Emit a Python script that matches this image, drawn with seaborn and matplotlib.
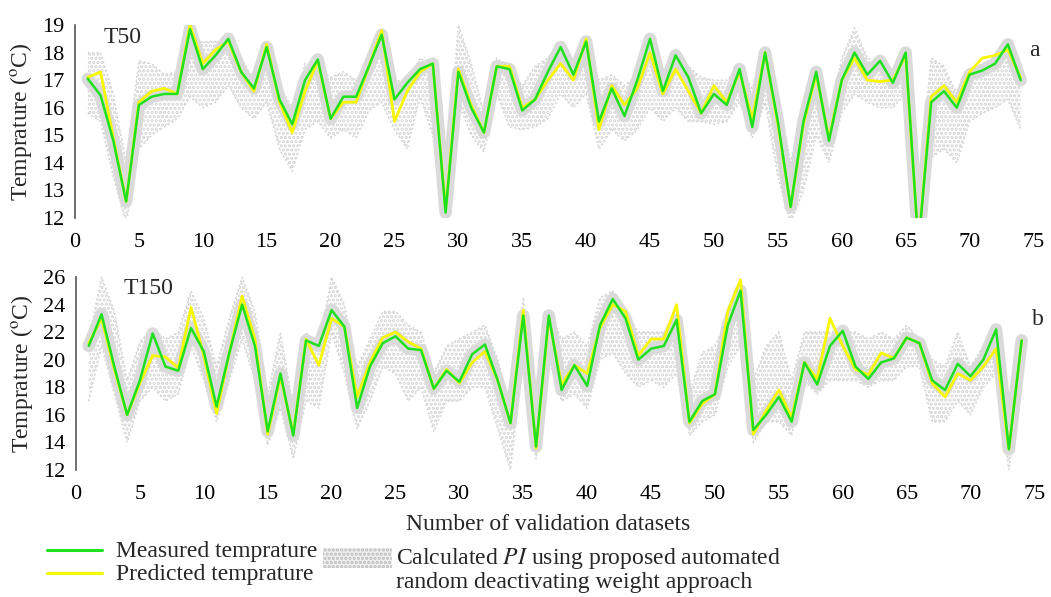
import numpy as np
import pandas as pd
import matplotlib
matplotlib.use("Agg")
import matplotlib.pyplot as plt
import seaborn as sns
from matplotlib.lines import Line2D
from matplotlib.patches import Rectangle

# ---------------- data ----------------
x_idx = list(range(1, 75))

t50_measured = [17.05, 16.45, 14.8, 12.6, 16.1, 16.4, 16.5, 16.5, 18.85, 17.4,
                17.9, 18.5, 17.3, 16.7, 18.2, 16.3, 15.4, 17.0, 17.75, 15.6,
                16.4, 16.4, 17.5, 18.65, 16.3, 16.9, 17.4, 17.6, 12.2, 17.3,
                16.0, 15.1, 17.5, 17.4, 15.9, 16.3, 17.3, 18.2, 17.2, 18.4,
                15.5, 16.7, 15.7, 17.0, 18.5, 16.6, 17.9, 17.1, 15.8, 16.5,
                16.1, 17.4, 15.3, 18.0, 15.5, 12.4, 15.5, 17.3, 14.8, 17.0,
                18.0, 17.2, 17.7, 16.9, 18.0, 11.0, 16.2, 16.6, 16.0, 17.2,
                17.35, 17.6, 18.3, 17.0]
t50_predicted = [17.1, 17.3, 14.9, 12.6, 16.2, 16.6, 16.7, 16.5, 19.0, 17.6,
                 18.1, 18.4, 17.3, 16.6, 18.3, 16.2, 15.1, 16.6, 17.7, 15.6,
                 16.2, 16.2, 17.5, 18.8, 15.5, 16.6, 17.3, 17.6, 12.3, 17.4,
                 16.1, 15.1, 17.5, 17.5, 16.0, 16.3, 17.0, 17.6, 17.0, 18.5,
                 15.2, 16.8, 16.1, 16.7, 18.0, 16.5, 17.4, 16.6, 15.8, 16.8,
                 16.2, 17.3, 15.6, 18.0, 15.4, 12.4, 15.4, 17.2, 14.9, 17.0,
                 17.8, 17.0, 16.95, 17.0, 17.9, 11.0, 16.4, 16.8, 16.2, 17.3,
                 17.8, 17.9, 18.1, 17.1]
t50_pi_low = [15.8, 15.5, 13.5, 11.8, 14.5, 15.0, 15.3, 15.6, 16.4, 16.0,
              16.2, 16.8, 16.0, 15.6, 16.2, 14.5, 13.7, 15.2, 15.5, 14.9,
              15.2, 14.9, 15.9, 16.2, 15.2, 14.5, 16.4, 15.0, 11.8, 16.2,
              15.0, 14.4, 16.5, 15.3, 15.2, 15.3, 15.6, 16.5, 16.0, 16.5,
              14.5, 15.2, 14.8, 15.2, 16.0, 15.5, 16.0, 15.5, 15.5, 15.4,
              15.5, 16.2, 14.9, 16.2, 13.5, 11.8, 13.0, 15.0, 14.0, 15.8,
              16.5, 16.2, 16.0, 16.0, 16.5, 11.8, 14.2, 14.5, 14.0, 15.5,
              15.8, 16.0, 16.3, 15.2]
t50_pi_high = [18.0, 18.0, 16.5, 14.0, 17.7, 17.6, 17.2, 17.3, 18.3, 18.4,
               18.4, 18.4, 17.8, 17.0, 18.3, 16.8, 16.0, 17.6, 17.5, 17.1,
               17.3, 17.0, 17.5, 18.2, 17.0, 16.9, 17.8, 17.5, 13.0, 19.0,
               17.6, 15.8, 17.8, 17.4, 16.8, 17.5, 17.8, 18.3, 17.4, 18.4,
               17.0, 17.2, 16.8, 17.2, 18.0, 17.2, 18.0, 17.5, 17.1, 17.0,
               17.0, 17.4, 16.7, 18.2, 16.5, 14.0, 16.0, 17.3, 15.5, 17.8,
               18.9, 17.8, 17.6, 17.3, 18.0, 13.0, 17.8, 17.5, 16.5, 17.4,
               17.6, 17.8, 18.4, 17.3]

t150_measured = [21.0, 23.3, 19.5, 16.0, 18.5, 21.9, 19.5, 19.2, 22.3, 20.6,
                 16.6, 20.5, 24.0, 21.0, 14.8, 19.0, 14.5, 21.4, 21.0, 23.6,
                 22.4, 16.5, 19.5, 21.2, 21.7, 20.8, 20.7, 17.9, 19.2, 18.4,
                 20.4, 21.1, 18.5, 15.4, 23.2, 13.7, 23.2, 17.8, 19.6, 18.1,
                 22.5, 24.4, 23.0, 20.0, 20.8, 21.0, 22.9, 15.5, 17.0, 17.5,
                 22.5, 25.0, 14.9, 16.0, 17.3, 15.5, 19.8, 18.2, 21.0, 22.1,
                 19.5, 18.6, 19.8, 20.1, 21.6, 21.2, 18.5, 17.8, 19.7, 18.8,
                 20.0, 22.2, 13.5, 21.4]
t150_predicted = [21.2, 23.0, 19.3, 16.0, 18.3, 20.3, 20.2, 19.4, 23.8, 20.3,
                  16.1, 20.5, 24.6, 21.5, 14.6, 18.8, 14.6, 21.5, 19.6, 23.0,
                  22.4, 17.3, 19.8, 21.6, 22.0, 21.3, 20.8, 17.9, 19.3, 18.3,
                  19.8, 20.6, 18.5, 15.4, 23.6, 13.6, 23.0, 18.2, 19.6, 19.0,
                  22.3, 24.0, 23.5, 20.3, 21.5, 21.5, 24.0, 15.4, 16.8, 17.5,
                  23.5, 25.8, 14.6, 16.3, 17.8, 15.8, 19.8, 18.6, 23.0, 21.0,
                  19.3, 18.9, 20.5, 20.1, 21.6, 21.2, 18.3, 17.3, 19.0, 18.5,
                  19.5, 20.8, 13.5, 21.4]
t150_pi_low = [17.0, 21.0, 17.5, 14.0, 17.0, 18.0, 17.0, 17.5, 21.0, 18.5,
               15.5, 18.5, 21.5, 18.5, 13.8, 16.5, 12.8, 17.0, 16.5, 22.0,
               19.0, 15.0, 17.0, 19.5, 19.0, 17.0, 18.0, 14.8, 17.0, 17.0,
               18.0, 18.0, 15.0, 12.0, 20.5, 12.8, 20.0, 17.0, 17.5, 16.5,
               20.0, 20.5, 19.0, 18.0, 18.5, 18.0, 19.0, 14.5, 15.5, 16.0,
               19.5, 21.0, 14.0, 15.5, 15.5, 14.5, 18.5, 17.5, 18.5, 18.5,
               18.5, 18.0, 18.5, 18.5, 19.5, 19.5, 15.5, 15.5, 17.0, 16.0,
               18.0, 19.0, 12.0, 19.0]
t150_pi_high = [21.5, 26.0, 23.5, 18.5, 21.3, 22.3, 21.5, 22.0, 25.0, 23.0,
                19.5, 23.0, 26.0, 23.5, 17.5, 22.0, 16.5, 22.0, 21.0, 26.0,
                24.0, 19.5, 21.5, 23.5, 23.5, 22.5, 22.0, 19.0, 21.0, 21.5,
                22.0, 22.5, 20.0, 16.5, 24.5, 15.0, 23.5, 21.5, 22.0, 21.0,
                24.5, 25.0, 23.5, 22.0, 22.0, 22.0, 22.5, 17.5, 20.5, 21.0,
                23.0, 24.0, 18.5, 21.0, 22.0, 18.5, 22.0, 22.0, 22.0, 22.0,
                22.0, 21.5, 22.0, 21.5, 22.5, 21.5, 20.0, 19.5, 22.0, 19.5,
                21.0, 22.5, 15.0, 22.0]

x_ticks = list(range(0, 80, 5))
t50_yticks = list(range(12, 20, 1))
t150_yticks = list(range(12, 27, 2))
panel_names = ["T50", "T150"]
panel_letters = ["a", "b"]
legend_labels = ["Measured temprature", "Predicted temprature",
                 "Calculated $\\mathit{PI}$ using proposed automated",
                 "random deactivating weight approach"]
x_label = "Number of validation datasets"
y_label = "Temprature ($^{\\mathrm{o}}$C)"

# ---------------- style ----------------
sns.set_style("white")
plt.rcParams["font.family"] = ["Liberation Serif", "DejaVu Serif"]
plt.rcParams["mathtext.fontset"] = "stix"
plt.rcParams["hatch.linewidth"] = 1.6

GREEN = "#1ee01e"
YELLOW = "#f7f700"
GRAY = "#d4d4d4"
CORE = "#dadada"
FS = 17
TICK_FS = 16

W, H = 1051, 597
fig = plt.figure(figsize=(W / 100, H / 100), dpi=100)


def fx(px):
    return px / W


def fy(py):
    return 1 - py / H


ax_top = fig.add_axes([fx(75), fy(218), fx(1036) - fx(75), fy(25) - fy(218)])
ax_bot = fig.add_axes([fx(76), fy(470), fx(1037) - fx(76), fy(277) - fy(470)])

panels = [
    (ax_top, t50_measured, t50_predicted, t50_pi_low, t50_pi_high, (12, 19), t50_yticks),
    (ax_bot, t150_measured, t150_predicted, t150_pi_low, t150_pi_high, (12, 26), t150_yticks),
]

for i, (ax, meas, pred, lo, hi, ylim, yt) in enumerate(panels):
    df = pd.DataFrame({"x": x_idx, "measured": meas, "predicted": pred,
                       "lo": lo, "hi": hi})
    # prediction interval cloud
    ax.fill_between(df["x"], df["lo"], df["hi"], facecolor="none",
                    edgecolor=GRAY, hatch="....", linewidth=0, zorder=1)
    sns.lineplot(data=df, x="x", y="lo", ax=ax, color=GRAY, lw=1.2,
                 linestyle=":", zorder=1)
    sns.lineplot(data=df, x="x", y="hi", ax=ax, color=GRAY, lw=1.2,
                 linestyle=":", zorder=1)
    sns.lineplot(data=df, x="x", y="measured", ax=ax, color=CORE, lw=9,
                 zorder=2, solid_capstyle="round", solid_joinstyle="round")
    # measured / predicted
    sns.lineplot(data=df, x="x", y="predicted", ax=ax, color=YELLOW, lw=2.0,
                 zorder=3, solid_joinstyle="round")
    sns.lineplot(data=df, x="x", y="measured", ax=ax, color=GREEN, lw=1.8,
                 zorder=4, solid_joinstyle="round")

    ax.set_xlim(0, 75.2)
    ax.set_ylim(*ylim)
    ax.set_xticks(x_ticks)
    ax.set_yticks(yt)
    ax.set_xlabel("")
    ax.set_ylabel(y_label, fontsize=FS)
    ax.yaxis.set_label_coords(-0.043, 0.5)
    for s in ["top", "right", "bottom"]:
        ax.spines[s].set_visible(False)
    ax.spines["left"].set_color("#555555")
    ax.spines["left"].set_linewidth(1.2)
    ax.tick_params(axis="both", direction="in", length=5, width=1.1,
                   color="#333333", labelsize=TICK_FS, labelcolor="black")
    ax.tick_params(axis="x", pad=11)
    ax.tick_params(axis="y", pad=8)
    ax.set_facecolor("none")

ax_top.text(0.05, 0.933, panel_names[0], transform=ax_top.transAxes,
            fontsize=FS, ha="center", va="center")
ax_top.text(0.998, 0.87, panel_letters[0], transform=ax_top.transAxes,
            fontsize=FS, ha="center", va="center")
ax_bot.text(0.075, 0.938, panel_names[1], transform=ax_bot.transAxes,
            fontsize=FS, ha="center", va="center")
ax_bot.text(1.001, 0.782, panel_letters[1], transform=ax_bot.transAxes,
            fontsize=FS, ha="center", va="center")

fig.text(fx(548), fy(530), x_label, fontsize=FS, ha="center", va="baseline")

# legend: lines
fig.add_artist(Line2D([fx(47), fx(102)], [fy(550), fy(550)],
                      transform=fig.transFigure, color=GREEN, lw=2.2))
fig.add_artist(Line2D([fx(47), fx(102)], [fy(573), fy(573)],
                      transform=fig.transFigure, color=YELLOW, lw=2.2))
fig.text(fx(116), fy(557), legend_labels[0], fontsize=FS, ha="left", va="baseline")
fig.text(fx(116), fy(580), legend_labels[1], fontsize=FS, ha="left", va="baseline")

# legend: PI cloud patch
rect = Rectangle((fx(323), fy(568)), fx(392) - fx(323), fy(548) - fy(568),
                 transform=fig.transFigure, facecolor="#efefef",
                 edgecolor="#bdbdbd", hatch="....", linewidth=0)
fig.add_artist(rect)
fig.text(fx(396), fy(564), legend_labels[2], fontsize=FS, ha="left", va="baseline")
fig.text(fx(396), fy(588), legend_labels[3], fontsize=FS, ha="left", va="baseline")

fig.savefig("out.png", dpi=100)
